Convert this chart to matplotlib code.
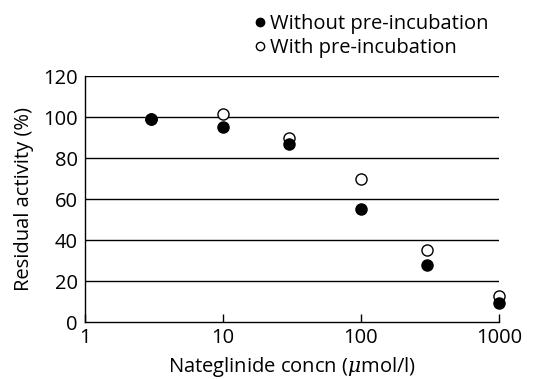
import numpy as np
import matplotlib
matplotlib.use("Agg")
import matplotlib.pyplot as plt

plt.rcParams["font.family"] = ["Open Sans", "DejaVu Sans"]
plt.rcParams["mathtext.fontset"] = "dejavuserif"

conc = [3, 10, 30, 100, 300, 1000]
without_pre = [99, 95, 87, 55, 28, 9.5]
with_pre = [99, 101.5, 90, 70, 35, 13]

fs = 14.5

fig = plt.figure(figsize=(5.44, 3.79), dpi=100)
ax = fig.add_axes([0.156, 0.150, 0.761, 0.649])

for y in [20, 40, 60, 80, 100, 120]:
    ax.axhline(y, color="black", lw=1.0, zorder=1)

ax.plot(conc, with_pre, "o", ms=8, mfc="white", mec="black", mew=1.0,
        label="With pre-incubation", zorder=3, clip_on=False)
ax.plot(conc, without_pre, "o", ms=8, mfc="black", mec="black",
        label="Without pre-incubation", zorder=4, clip_on=False)

ax.set_xscale("log")
ax.set_xlim(1, 1000)
ax.set_ylim(0, 120)
ax.set_xticks([1, 10, 100, 1000])
ax.set_xticklabels(["1", "10", "100", "1000"])
ax.xaxis.set_minor_locator(matplotlib.ticker.NullLocator())
ax.set_yticks([0, 20, 40, 60, 80, 100, 120])
ax.tick_params(axis="x", direction="in", length=6, width=1, labelsize=fs, pad=4)
ax.tick_params(axis="y", length=0, labelsize=fs, pad=5)

for s in ["top", "right"]:
    ax.spines[s].set_visible(False)
for s in ["left", "bottom"]:
    ax.spines[s].set_linewidth(1.0)

ax.set_xlabel(r"Nateglinide concn ($\mu$mol/l)", fontsize=fs, labelpad=5)
ax.set_ylabel("Residual activity (%)", fontsize=fs, labelpad=7)

handles, labels = ax.get_legend_handles_labels()
ax.legend(handles[::-1], labels[::-1], loc="lower left",
          bbox_to_anchor=(0.37, 1.025), frameon=False, fontsize=fs,
          handletextpad=0.0, markerscale=0.75, labelspacing=0.2,
          borderaxespad=0.2, handlelength=1.0)

fig.savefig("out.png", dpi=100)
